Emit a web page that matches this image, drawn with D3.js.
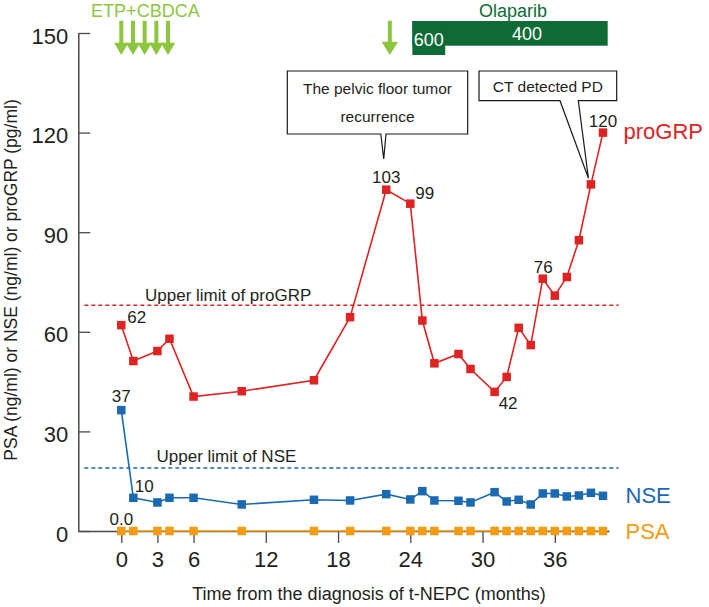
<!DOCTYPE html>
<html>
<head>
<meta charset="utf-8">
<script src="https://cdn.jsdelivr.net/npm/d3@7"></script>
<style>
  html, body { margin: 0; padding: 0; background: #fff; }
  svg { display: block; font-family: "Liberation Sans", Arial, Helvetica, sans-serif; }
</style>
</head>
<body>
<svg id="chart" width="709" height="607"></svg>
<script>
// ---------- data ----------
const months = [0, 1, 3, 4, 6, 10, 16, 19, 22, 24, 25, 26, 28, 29, 31, 32, 33, 34, 35, 36, 37, 38, 39, 40];
const proGRP = [62, 51.2, 54.2, 57.9, 40.5, 42.1, 45.4, 64.4, 102.8, 98.6, 63.4, 50.5, 53.3, 48.8, 41.9, 46.4, 61.2, 56.0, 76.0, 70.9, 76.5, 87.6, 104.4, 120];
const nse = [36.4, 10.0, 8.6, 10.0, 10.0, 8.0, 9.4, 9.2, 11.1, 9.5, 12.0, 9.2, 9.1, 8.6, 11.7, 8.9, 9.4, 8.0, 11.3, 11.3, 10.4, 10.7, 11.5, 10.6];
const psa = [0, 0, 0, 0, 0, 0, 0, 0, 0, 0, 0, 0, 0, 0, 0, 0, 0, 0, 0, 0, 0, 0, 0, 0];
const xTicks = [0, 3, 6, 12, 18, 24, 30, 36];
const yTicks = [0, 30, 60, 90, 120, 150];
const upperLimitProGRP = 68;
const upperLimitNSE = 19;
const etpMonths = [0, 0.97, 1.94, 2.91, 3.88];
const secondArrowMonth = 22.3;
const olaparibStart = 24.17, olaparibSwitch = 26.9, olaparibEnd = 40.39;
const olaparibDoses = ["600", "400"];
// labelled values: [month, value, text]
const proGRPLabels = [[0, 62, "62"], [22, 102.8, "103"], [24, 98.6, "99"], [31, 41.9, "42"], [35, 76.0, "76"], [40, 120, "120"]];
const nseLabels = [[0, 36.4, "37"], [1, 10.0, "10"]];
const psaLabels = [[0, 0, "0.0"]];

// ---------- setup ----------
const svg = d3.select("#chart");
const x = d3.scaleLinear().domain([-3.57, 40.5]).range([78.3, 609]);
const y = d3.scaleLinear().domain([0, 150]).range([531, 33]);

const RED = "#de2323", BLUE = "#1b69b0", ORANGE = "#f39b12";
const LGREEN = "#8cc63f", DGREEN = "#0e6b36", TXT = "#231f20", AXIS = "#4a4a4a";

// ---------- axes ----------
const gx = svg.append("g").attr("transform", `translate(0,${y(0)})`)
  .call(d3.axisBottom(x).tickValues(xTicks).tickSizeInner(12).tickSizeOuter(0).tickPadding(8));
const gy = svg.append("g").attr("transform", `translate(${x.range()[0]},0)`)
  .call(d3.axisLeft(y).tickValues(yTicks).tickSizeInner(-12).tickSizeOuter(0).tickPadding(10));
[gx, gy].forEach(g => {
  g.select(".domain").attr("stroke", AXIS).attr("stroke-width", 1.5);
  g.selectAll(".tick line").attr("stroke", AXIS).attr("stroke-width", 1.3);
  g.selectAll(".tick text").attr("fill", TXT).attr("font-size", 22)
    .attr("font-family", '"Liberation Sans", Arial, sans-serif');
});
gy.selectAll(".tick text").attr("dy", "0.46em");

// axis titles
svg.append("text").attr("x", 369).attr("y", 600).attr("text-anchor", "middle")
  .attr("font-size", 18).attr("fill", TXT).text("Time from the diagnosis of t-NEPC (months)");
svg.append("text").attr("transform", "translate(16.5,280) rotate(-90)").attr("text-anchor", "middle")
  .attr("font-size", 17.5).attr("fill", TXT).text("PSA (ng/ml) or NSE (ng/ml) or proGRP (pg/ml)");

// ---------- upper limit lines ----------
function limitLine(v, color, label, lx, dyb) {
  svg.append("line").attr("x1", x(-3.07)).attr("x2", x(41.3)).attr("y1", y(v)).attr("y2", y(v))
    .attr("stroke", color).attr("stroke-width", 1.5).attr("stroke-dasharray", "4,3");
  svg.append("text").attr("x", lx).attr("y", y(v) + dyb).attr("font-size", 17).attr("fill", TXT).text(label);
}
limitLine(upperLimitProGRP, RED, "Upper limit of proGRP", 145, -4.7);
limitLine(upperLimitNSE, BLUE, "Upper limit of NSE", 156.5, -5.8);

// ---------- series ----------
function series(vals, color) {
  const pts = months.map((m, i) => [m, vals[i]]);
  svg.append("path").datum(pts)
    .attr("d", d3.line().x(d => x(d[0])).y(d => y(d[1])))
    .attr("fill", "none").attr("stroke", color).attr("stroke-width", 1.6);
  const s = 8.5;
  svg.append("g").selectAll("rect").data(pts).join("rect")
    .attr("x", d => x(d[0]) - s / 2).attr("y", d => y(d[1]) - s / 2)
    .attr("width", s).attr("height", s).attr("fill", color);
}
series(psa, ORANGE);
series(nse, BLUE);
series(proGRP, RED);

// ---------- value labels ----------
function vlab(d, anchor, dx, dy) {
  svg.append("text").attr("x", x(d[0]) + dx).attr("y", y(d[1]) + dy)
    .attr("text-anchor", anchor).attr("font-size", 17).attr("fill", TXT).text(d[2]);
}
vlab(proGRPLabels[0], "start", 6, -2.5);
vlab(proGRPLabels[1], "middle", 0, -7);
vlab(proGRPLabels[2], "start", 5, -4.6);
vlab(proGRPLabels[3], "middle", 13.5, 17);
vlab(proGRPLabels[4], "middle", 0.5, -5.5);
vlab(proGRPLabels[5], "middle", 0, -6);
vlab(nseLabels[0], "middle", 0, -8);
vlab(nseLabels[1], "start", 1.5, -5.5);
vlab(psaLabels[0], "middle", 0, -6);

// series names
svg.append("text").attr("x", 623.5).attr("y", 138.5).attr("font-size", 22).attr("fill", RED).text("proGRP");
svg.append("text").attr("x", 625.5).attr("y", 503).attr("font-size", 22).attr("fill", BLUE).text("NSE");
svg.append("text").attr("x", 625.5).attr("y", 538.5).attr("font-size", 22).attr("fill", ORANGE).text("PSA");

// ---------- treatment annotations ----------
function arrow(cx, top, headTop, bottom, shaftW, headHalf) {
  const p = d3.path();
  p.moveTo(cx - shaftW / 2, top);
  p.lineTo(cx + shaftW / 2, top);
  p.lineTo(cx + shaftW / 2, headTop);
  p.lineTo(cx + headHalf, headTop);
  p.lineTo(cx, bottom);
  p.lineTo(cx - headHalf, headTop);
  p.lineTo(cx - shaftW / 2, headTop);
  p.closePath();
  svg.append("path").attr("d", p.toString()).attr("fill", LGREEN);
}
etpMonths.forEach(m => arrow(x(m), 20.7, 42.7, 55, 4, 7.2));
arrow(x(secondArrowMonth), 20.7, 41.7, 55, 4, 8.3);
svg.append("text").attr("x", x(2)).attr("y", 16.5).attr("text-anchor", "middle")
  .attr("font-size", 18).attr("fill", LGREEN).text("ETP+CBDCA");

// Olaparib bar
svg.append("rect").attr("x", x(olaparibStart)).attr("y", 21).attr("width", x(olaparibEnd) - x(olaparibStart))
  .attr("height", 24.7).attr("fill", DGREEN);
svg.append("rect").attr("x", x(olaparibStart)).attr("y", 21).attr("width", x(olaparibSwitch) - x(olaparibStart))
  .attr("height", 34).attr("fill", DGREEN);
svg.append("text").attr("x", x(olaparibStart) + 1.5).attr("y", 46).attr("font-size", 18).attr("fill", "#fff").text(olaparibDoses[0]);
svg.append("text").attr("x", 527).attr("y", 39.5).attr("text-anchor", "middle").attr("font-size", 18).attr("fill", "#fff").text(olaparibDoses[1]);
svg.append("text").attr("x", 513).attr("y", 16.5).attr("text-anchor", "middle").attr("font-size", 18).attr("fill", DGREEN).text("Olaparib");

// ---------- callouts ----------
function callout(l, r, t, b, pl, pr, tx, ty, lines, baselines) {
  const p = d3.path();
  p.moveTo(l, t); p.lineTo(r, t); p.lineTo(r, b); p.lineTo(pr, b); p.lineTo(tx, ty); p.lineTo(pl, b); p.lineTo(l, b); p.closePath();
  svg.append("path").attr("d", p.toString()).attr("fill", "#fff").attr("stroke", "#1a1a1a").attr("stroke-width", 1.2)
    .attr("stroke-linejoin", "miter");
  lines.forEach((s, i) => svg.append("text").attr("x", (l + r) / 2).attr("y", baselines[i])
    .attr("text-anchor", "middle").attr("font-size", 15.5).attr("fill", TXT).text(s));
}
callout(287.3, 467.7, 71, 134, 380.8, 386, x(22) - 2.5, 159,
  ["The pelvic floor tumor", "recurrence"], [94.3, 121.7]);
callout(479, 616.7, 71, 100.7, 560, 578.3, x(39) - 2.5, 178.3,
  ["CT detected PD"], [91.7]);
</script>
</body>
</html>
